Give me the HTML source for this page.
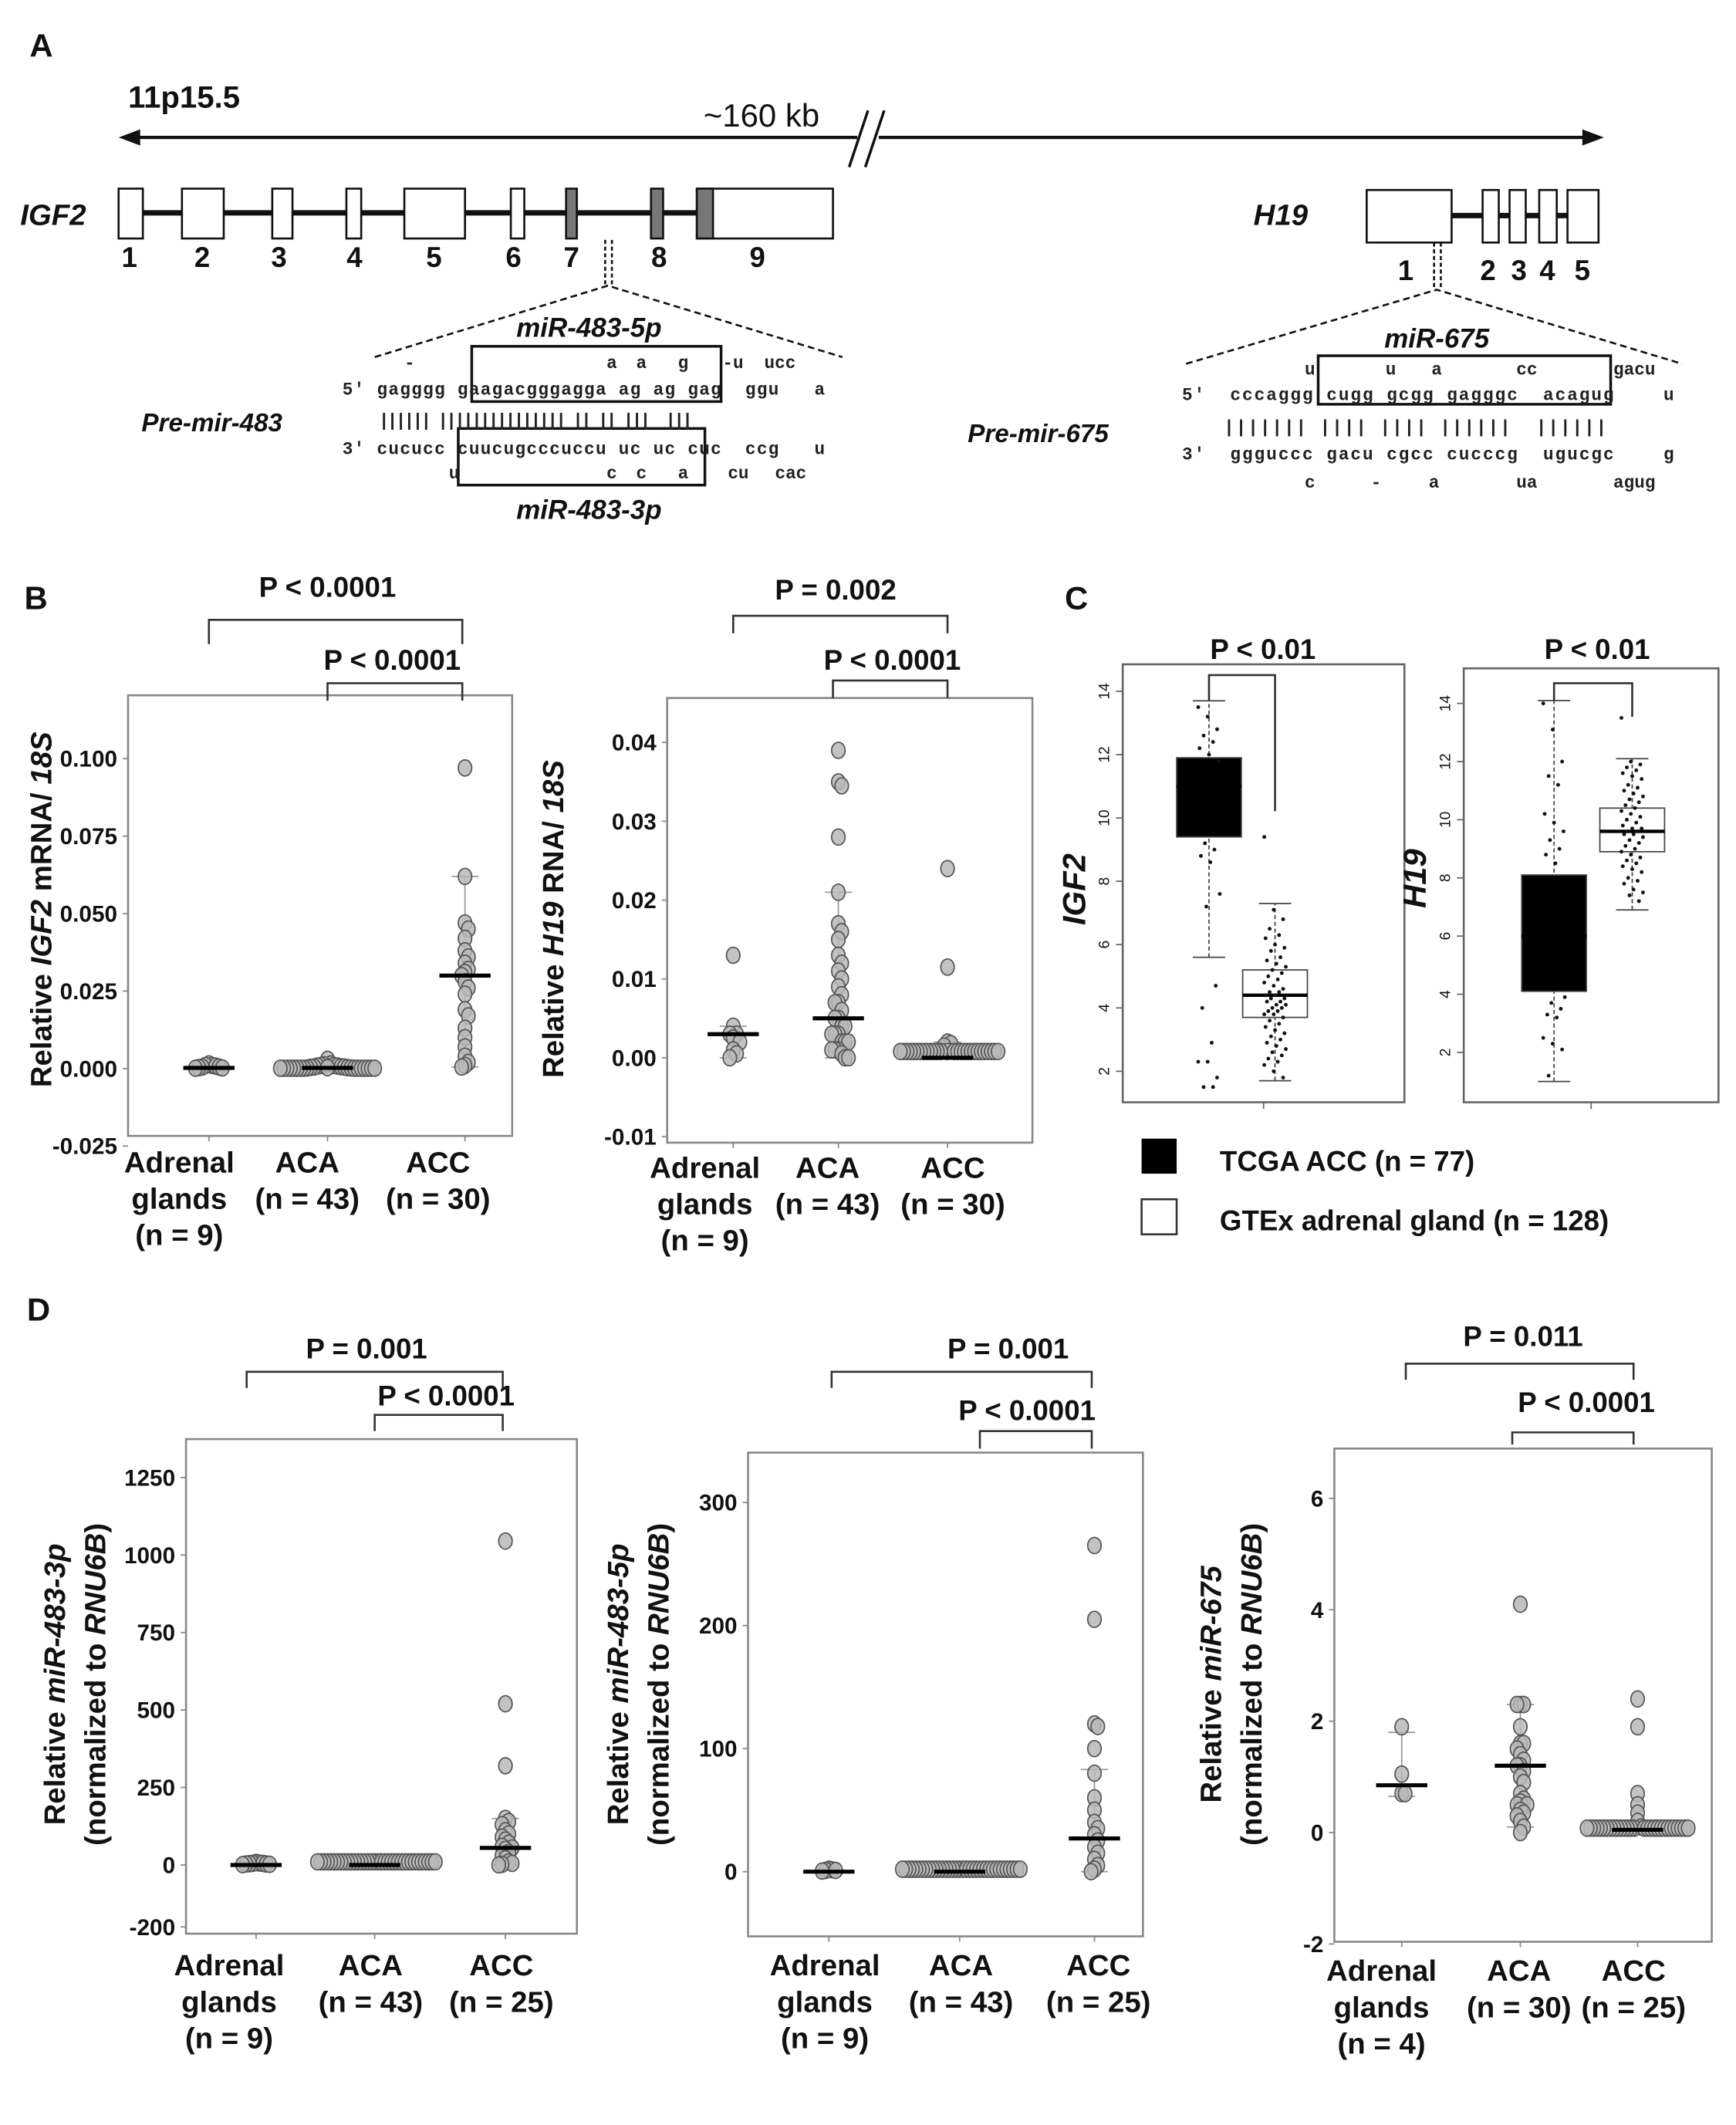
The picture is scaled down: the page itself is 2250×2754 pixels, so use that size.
<!DOCTYPE html>
<html><head><meta charset="utf-8"><style>
html,body{margin:0;padding:0;background:#fff}
svg{display:block}
text{font-family:"Liberation Sans",Arial,sans-serif;fill:#111}
.b{font-weight:bold}
.mono{font-family:"Liberation Mono","DejaVu Sans Mono",monospace;font-size:13px;font-weight:bold;fill:#222}
</style></head><body>
<svg id="fig" xmlns="http://www.w3.org/2000/svg" width="2250" height="2754" viewBox="0 0 1288 1577" preserveAspectRatio="none">
<rect width="1288" height="1577" fill="#fff"/>
<g>
<text x="22" y="42" class="b" font-size="24">A</text>
<text x="95" y="80" class="b" font-size="23">11p15.5</text>
<text x="565" y="94" font-size="24" text-anchor="middle">~160 kb</text>
<g stroke="#111" stroke-width="2.5">
<line x1="98" y1="102" x2="636" y2="102"/><line x1="652" y1="102" x2="1180" y2="102"/>
<polygon points="88,102 104,96 104,108" fill="#111" stroke="none"/>
<polygon points="1190,102 1174,96 1174,108" fill="#111" stroke="none"/>
<line x1="630" y1="124" x2="644" y2="82" stroke-width="2"/><line x1="642" y1="124" x2="656" y2="82" stroke-width="2"/>
</g>
<text x="15" y="167" class="b" font-size="22" font-style="italic">IGF2</text>
<g stroke="#111" stroke-width="1.5">
<line x1="100" y1="158" x2="520" y2="158" stroke-width="4"/>
<rect x="88" y="140" width="18" height="37" fill="#fff"/>
<rect x="135" y="140" width="31" height="37" fill="#fff"/>
<rect x="202" y="140" width="15" height="37" fill="#fff"/>
<rect x="257" y="140" width="11" height="37" fill="#fff"/>
<rect x="300" y="140" width="45" height="37" fill="#fff"/>
<rect x="379" y="140" width="10" height="37" fill="#fff"/>
<rect x="420" y="140" width="8" height="37" fill="#777"/>
<rect x="483" y="140" width="9" height="37" fill="#777"/>
<rect x="517" y="140" width="101" height="37" fill="#fff"/>
<rect x="517" y="140" width="12" height="37" fill="#777"/>
<line x1="449" y1="178" x2="449" y2="212" stroke-dasharray="3,2"/><line x1="454" y1="178" x2="454" y2="212" stroke-dasharray="3,2"/>
<polyline points="278,265 451,212 625,265" fill="none" stroke-dasharray="5,3"/>
</g>
<g class="b" font-size="21" text-anchor="middle">
<text x="96" y="198">1</text><text x="150" y="198">2</text><text x="207" y="198">3</text><text x="263" y="198">4</text><text x="322" y="198">5</text><text x="381" y="198">6</text><text x="424" y="198">7</text><text x="489" y="198">8</text><text x="562" y="198">9</text>
</g>
<text x="437" y="250" class="b" font-size="20" font-style="italic" text-anchor="middle">miR-483-5p</text>
<text x="437" y="385" class="b" font-size="20" font-style="italic" text-anchor="middle">miR-483-3p</text>
<text x="105" y="320" class="b" font-size="19" font-style="italic">Pre-mir-483</text>
<rect x="350" y="257" width="185" height="41" fill="none" stroke="#111" stroke-width="2"/>
<rect x="340" y="318" width="183" height="42" fill="none" stroke="#111" stroke-width="2"/>
<g>
<text class="mono" x="300" y="273">-</text>
<text class="mono" x="450" y="273">a</text><text class="mono" x="472" y="273">a</text><text class="mono" x="503" y="273">g</text>
<text class="mono" x="536" y="273">-u</text><text class="mono" x="567" y="273">ucc</text>
<text class="mono" x="254" y="293" xml:space="preserve" textLength="358">5' gagggg gaagacgggagga ag ag gag  ggu   a</text>
<text class="mono" x="281" y="316" xml:space="preserve" textLength="233">|||||| ||||||||||||||| || || |||  |||</text>
<text class="mono" x="254" y="337" xml:space="preserve" textLength="358">3' cucucc cuucugcccuccu uc uc cuc  ccg   u</text>
<text class="mono" x="333" y="355">u</text>
<text class="mono" x="450" y="355">c</text><text class="mono" x="472" y="355">c</text><text class="mono" x="503" y="355">a</text>
<text class="mono" x="540" y="355">cu</text><text class="mono" x="575" y="355">cac</text>
</g>
<text x="930" y="167" class="b" font-size="22" font-style="italic">H19</text>
<g stroke="#111" stroke-width="1.5">
<line x1="1077" y1="160" x2="1163" y2="160" stroke-width="4"/>
<rect x="1014" y="141" width="63" height="39" fill="#fff"/>
<rect x="1100" y="141" width="12" height="39" fill="#fff"/>
<rect x="1120" y="141" width="12" height="39" fill="#fff"/>
<rect x="1142" y="141" width="13" height="39" fill="#fff"/>
<rect x="1163" y="141" width="23" height="39" fill="#fff"/>
<line x1="1064" y1="180" x2="1064" y2="214" stroke-dasharray="3,2"/><line x1="1069" y1="180" x2="1069" y2="214" stroke-dasharray="3,2"/>
<polyline points="880,270 1066,215 1248,270" fill="none" stroke-dasharray="5,3"/>
</g>
<g class="b" font-size="21" text-anchor="middle">
<text x="1043" y="208">1</text><text x="1104" y="208">2</text><text x="1127" y="208">3</text><text x="1148" y="208">4</text><text x="1174" y="208">5</text>
</g>
<text x="1066" y="258" class="b" font-size="20" font-style="italic" text-anchor="middle">miR-675</text>
<text x="718" y="328" class="b" font-size="19" font-style="italic">Pre-mir-675</text>
<rect x="978" y="264" width="217" height="36" fill="none" stroke="#111" stroke-width="2"/>
<g>
<text class="mono" x="968" y="278">u</text><text class="mono" x="1028" y="278">u</text><text class="mono" x="1062" y="278">a</text><text class="mono" x="1125" y="278">cc</text><text class="mono" x="1197" y="278">gacu</text>
<text class="mono" x="877" y="297" xml:space="preserve" textLength="365">5'  cccaggg cugg gcgg gagggc  acagug    u</text>
<text class="mono" x="908" y="321" xml:space="preserve" textLength="284">||||||| |||| |||| ||||||  ||||||</text>
<text class="mono" x="877" y="341" xml:space="preserve" textLength="365">3'  ggguccc gacu cgcc cucccg  ugucgc    g</text>
<text class="mono" x="968" y="362">c</text><text class="mono" x="1017" y="362">-</text><text class="mono" x="1060" y="362">a</text><text class="mono" x="1125" y="362">ua</text><text class="mono" x="1197" y="362">agug</text>
</g>
</g>
<text x="18" y="452" class="b" font-size="24">B</text>
<text x="790" y="452" class="b" font-size="24">C</text>
<text x="20" y="980" class="b" font-size="24">D</text>
<g id="charts"></g>
</svg>
<script>
// ---------- data ----------
const b1Categories = ["Adrenal glands (n = 9)", "ACA (n = 43)", "ACC (n = 30)"];
const b1Adrenal = [0.0015,0.001,0.001,0.0008,0.0005,0.0005,0.0003,0.0002,0.0001];
const b1ACA = [0.003,0.0015,0.0012,0.001,0.001,0.0008,0.0008,0.0006,0.0005,0.0005,0.0004,0.0003,0.0003,0.0002,0.0002,0.0001,0.0001,0.0001,0.0001,0.0001,0.0001,0.0001,0.0001,0.0001,0.0001,0.0001,0.0001,0.0001,0.0001,0.0001];
const b1ACC = [0.097,0.062,0.047,0.045,0.042,0.038,0.036,0.034,0.032,0.031,0.030,0.028,0.026,0.024,0.019,0.017,0.013,0.010,0.007,0.004,0.002,0.001,0.0005];
const b1Medians = [0.0002,0.0002,0.030];
const b1Whiskers = [[0,0.001],[0,0.001],[0.0005,0.062]];
const b1Ticks = [0.100,0.075,0.050,0.025,0.000,-0.025];
const b1TickLabels = ["0.100","0.075","0.050","0.025","0.000","-0.025"];
const b2Categories = ["Adrenal glands (n = 9)", "ACA (n = 43)", "ACC (n = 30)"];
const b2Adrenal = [0.013,0.004,0.003,0.003,0.0025,0.002,0.001,0.0005,0];
const b2ACA = [0.039,0.035,0.0345,0.028,0.021,0.017,0.016,0.015,0.013,0.012,0.011,0.010,0.009,0.008,0.007,0.007,0.006,0.005,0.005,0.004,0.004,0.003,0.003,0.003,0.002,0.002,0.002,0.001,0.001,0.001,0.0005,0,0];
const b2ACC = [0.024,0.0115,0.002,0.0018,0.0015,0.0008,0.0008,0.0008,0.0008,0.0008,0.0008,0.0008,0.0008,0.0008,0.0008,0.0008,0.0008,0.0008,0.0008,0.0008,0.0008,0.0008,0.0008,0.0008,0.0008,0.0008,0.0008,0.0008,0.0008,0.0008,0.0008,0.0008,0.0008];
const b2Medians = [0.003,0.005,0.0];
const b2Whiskers = [[0,0.004],[0,0.021],[0,0.002]];
const b2Ticks = [0.04,0.03,0.02,0.01,0.00,-0.01];
const b2TickLabels = ["0.04","0.03","0.02","0.01","0.00","-0.01"];
const cIgf2Tcga = [9.4,11.0,11.9,5.6,13.7];
const cIgf2Gtex = [3.7,4.4,5.2,1.7,7.3];
const cH19Tcga = [4.1,6.0,8.1,1.0,14.1];
const cH19Gtex = [8.9,9.6,10.4,6.9,12.1];
const cIgf2TcgaPts = [13.5,13.2,12.8,12.6,12.4,12.2,12.0,11.8,9.2,9.0,8.8,8.6,7.6,7.2,4.7,4.0,2.9,2.3,2.3,1.8,1.5,1.5];
const cIgf2GtexPts = [9.4,7.1,6.8,6.5,6.3,6.2,6.0,5.9,5.8,5.6,5.5,5.4,5.3,5.2,5.1,5.0,4.9,4.8,4.7,4.6,4.5,4.5,4.4,4.4,4.3,4.3,4.2,4.2,4.1,4.1,4.0,4.0,3.9,3.9,3.8,3.8,3.7,3.6,3.5,3.4,3.3,3.2,3.1,3.0,2.9,2.8,2.7,2.6,2.5,2.4,2.3,2.2,2.0,1.8];
const cH19TcgaPts = [14.0,13.1,12.0,11.5,11.2,10.2,9.9,9.6,9.3,9.0,8.8,8.5,3.9,3.7,3.5,3.3,3.2,2.5,2.3,2.1,1.2];
const cH19GtexPts = [13.5,12.0,11.9,11.8,11.7,11.6,11.5,11.4,11.2,11.1,11.0,10.9,10.8,10.7,10.6,10.5,10.4,10.3,10.2,10.1,10.0,9.9,9.8,9.7,9.7,9.6,9.6,9.5,9.5,9.4,9.3,9.2,9.1,9.0,8.9,8.8,8.7,8.6,8.5,8.4,8.3,8.2,8.0,7.9,7.8,7.6,7.5,7.4,7.2];
const cTicks = [2,4,6,8,10,12,14];
const d1Categories = ["Adrenal glands (n = 9)", "ACA (n = 43)", "ACC (n = 25)"];
const d1Adrenal = [8,6,5,5,4,3,3,2,1];
const d1ACA = [10,10,10,10,10,10,10,10,10,10,10,10,10,10,10,10,10,10,10,10,10,10,10,10,10,10,10,10,10,10,10,10,10,10,10,10];
const d1ACC = [1045,520,320,150,140,130,110,100,90,80,70,60,55,50,40,30,20,10,5,2,0];
const d1Medians = [0,0,55];
const d1Whiskers = [[0,0],[0,0],[0,150]];
const d1Ticks = [1250,1000,750,500,250,0,-200];
const d1TickLabels = ["1250","1000","750","500","250","0","-200"];
const d2Categories = ["Adrenal glands (n = 9)", "ACA (n = 43)", "ACC (n = 25)"];
const d2Adrenal = [2,1.5,1,1,0.5];
const d2ACA = [2,2,2,2,2,2,2,2,2,2,2,2,2,2,2,2,2,2,2,2,2,2,2,2,2,2,2,2,2,2,2,2,2,2,2,2];
const d2ACC = [265,205,120,118,100,80,60,50,40,35,30,25,20,15,10,5,2,0];
const d2Medians = [0,0,27];
const d2Whiskers = [[0,0],[0,0],[0,83]];
const d2Ticks = [300,200,100,0];
const d2TickLabels = ["300","200","100","0"];
const d3Categories = ["Adrenal glands (n = 4)", "ACA (n = 30)", "ACC (n = 25)"];
const d3Adrenal = [1.9,1.05,0.7,0.7];
const d3ACA = [4.1,2.3,2.3,2.3,1.9,1.6,1.6,1.5,1.4,1.3,1.2,1.2,1.1,1.0,0.9,0.7,0.6,0.55,0.5,0.5,0.4,0.35,0.3,0.2,0.1,0.0];
const d3ACC = [2.4,1.9,0.7,0.5,0.35,0.2,0.1,0.08,0.08,0.08,0.08,0.08,0.08,0.08,0.08,0.08,0.08,0.08,0.08,0.08,0.08,0.08,0.08,0.08,0.08,0.08,0.08,0.08,0.08,0.08,0.08,0.08,0.08,0.08,0.08,0.08];
const d3Medians = [0.85,1.2,0.05];
const d3Whiskers = [[0.65,1.8],[0.1,2.3],[0,0]];
const d3Ticks = [6,4,2,0,-2];
const d3TickLabels = ["6","4","2","0","-2"];

// ---------- drawing ----------
const NS = "http://www.w3.org/2000/svg";
const root = document.getElementById("charts");
function el(tag, attrs, parent, txt) {
  const e = document.createElementNS(NS, tag);
  for (const k in attrs) e.setAttribute(k, attrs[k]);
  if (txt !== undefined) e.textContent = txt;
  (parent || root).appendChild(e);
  return e;
}
function scale(v0, y0, v1, y1) { return v => y0 + (v - v0) * (y1 - y0) / (v1 - v0); }

function bracket(g, x1, x2, yTop, yL, yR, label, lx, ly) {
  const p = el("polyline", {points: `${x1},${yL} ${x1},${yTop} ${x2},${yTop} ${x2},${yR}`, fill: "none", stroke: "#333", "stroke-width": 1.5}, g);
  
  
  const t = el("text", {x: lx, y: ly, "font-size": 21, "font-weight": "bold", "text-anchor": "middle"}, g, label);
  
  
}

function dotPlot(cfg) {
  const g = el("g", {});
  
  
  const y = scale(cfg.v0, cfg.y0, cfg.v1, cfg.y1);
  const fr = el("rect", {x: cfg.box[0], y: cfg.box[1], width: cfg.box[2]-cfg.box[0], height: cfg.box[3]-cfg.box[1], fill: "none", stroke: "#888", "stroke-width": 1.5}, g);
  
  
  cfg.ticks.forEach((t, i) => {
    const ty = y(t);
    const tl = el("line", {x1: cfg.box[0]-4, x2: cfg.box[0], y1: ty, y2: ty, stroke: "#888"}, g);
    
    
    const tx = el("text", {x: cfg.box[0]-8, y: ty+6, "font-size": 17, "font-weight": "bold", "text-anchor": "end"}, g, cfg.tickLabels[i]);
    
    
  });
  cfg.xs.forEach(x => {
    const xt = el("line", {x1: x, x2: x, y1: cfg.box[3], y2: cfg.box[3]+4, stroke: "#888"}, g);
    
    
  });
  const yt = el("text", {transform: `translate(${cfg.ytx},${cfg.yty}) rotate(-90)`, "font-size": 22, "font-weight": "bold", "text-anchor": "middle"}, g);
  
  
  cfg.ytitle.forEach(([s, it]) => { el("tspan", it ? {"font-style": "italic"} : {}, yt, s); });
  if (cfg.ytitle2) {
    const yt2 = el("text", {transform: `translate(${cfg.ytx+30},${cfg.yty}) rotate(-90)`, "font-size": 22, "font-weight": "bold", "text-anchor": "middle"}, g);
    
    
    cfg.ytitle2.forEach(([s, it]) => el("tspan", it ? {"font-style": "italic"} : {}, yt2, s));
  }
  cfg.groups.forEach((vals, gi) => {
    const cx = cfg.xs[gi];
    const w = cfg.whiskers[gi];
    const wl = el("line", {x1: cx, x2: cx, y1: y(w[0]), y2: y(w[1]), stroke: "#999", "stroke-width": 1}, g);
    
    
    [w[0], w[1]].forEach(v => {
      const c = el("line", {x1: cx-10, x2: cx+10, y1: y(v), y2: y(v), stroke: "#999", "stroke-width": 1}, g);
      
      
    });
    const placed = [];
    const sorted = vals.slice().sort((a, b) => b - a);
    sorted.forEach(v => {
      const py = y(v);
      let k = 0, px = cx;
      while (true) {
        const off = (k % 2 ? 1 : -1) * Math.ceil(k / 2) * 2.5;
        px = cx + off;
        if (!placed.some(p => Math.abs(p[0]-px) < 2.4 && Math.abs(p[1]-py) < 6)) break;
        k++;
        if (k > 80) break;
      }
      placed.push([px, py]);
      const d = el("ellipse", {cx: px, cy: py, rx: 5, ry: 6, fill: "#b8b8b8", "fill-opacity": 0.85, stroke: "#555", "stroke-width": 1}, g);
      
      
    });
    const m = el("line", {x1: cx-19, x2: cx+19, y1: y(cfg.medians[gi]), y2: y(cfg.medians[gi]), stroke: "#000", "stroke-width": 3}, g);
    
    
  });
  cfg.categories.forEach((c, i) => {
    const parts = c.match(/^(.*?)\s*(\(n = \d+\))$/);
    let lines = [parts[1], parts[2]];
    if (parts[1] === "Adrenal glands") lines = ["Adrenal", "glands", parts[2]];
    const t = el("text", {"font-size": 22, "font-weight": "bold", "text-anchor": "middle"}, g);
    
    
    lines.forEach((s, li) => el("tspan", {x: cfg.labelX[i], y: cfg.labelY + li * 27}, t, s));
  });
  cfg.brackets.forEach(b => bracket(g, ...b));
}

dotPlot({name: "chart-igf2-mrna", box: [95,516,380,843], v0: 0, y0: 793, v1: 0.1, y1: 563,
  ticks: b1Ticks, tickLabels: b1TickLabels, xs: [155,243,345],
  groups: [b1Adrenal, b1ACA, b1ACC], medians: b1Medians, whiskers: b1Whiskers,
  categories: b1Categories, labelX: [133,228,325], labelY: 870,
  ytx: 38, yty: 675, ytitle: [["Relative ",0],["IGF2",1],[" mRNA/ ",0],["18S",1]],
  brackets: [[155,343,460,478,478,"P < 0.0001",243,443],[243,343,507,520,520,"P < 0.0001",291,497]]});

dotPlot({name: "chart-h19-rna", box: [495,518,766,848], v0: 0, y0: 785, v1: 0.04, y1: 551,
  ticks: b2Ticks, tickLabels: b2TickLabels, xs: [544,622,703],
  groups: [b2Adrenal, b2ACA, b2ACC], medians: b2Medians, whiskers: b2Whiskers,
  categories: b2Categories, labelX: [523,614,707], labelY: 874,
  ytx: 418, yty: 682, ytitle: [["Relative ",0],["H19",1],[" RNA/ ",0],["18S",1]],
  brackets: [[544,703,457,470,470,"P = 0.002",620,445],[618,703,505,518,518,"P < 0.0001",662,497]]});

dotPlot({name: "chart-mir-483-3p", box: [138,1068,428,1435], v0: 0, y0: 1384, v1: 1000, y1: 1154,
  ticks: d1Ticks, tickLabels: d1TickLabels, xs: [190,278,375],
  groups: [d1Adrenal, d1ACA, d1ACC], medians: d1Medians, whiskers: d1Whiskers,
  categories: d1Categories, labelX: [170,275,372], labelY: 1466,
  ytx: 48, yty: 1250, ytitle: [["Relative ",0],["miR-483-3p",1]], ytitle2: [["(normalized to ",0],["RNU6B",1],[")",0]],
  brackets: [[183,373,1018,1030,1030,"P = 0.001",272,1008],[278,373,1050,1062,1062,"P < 0.0001",331,1043]]});

dotPlot({name: "chart-mir-483-5p", box: [555,1078,848,1437], v0: 0, y0: 1389, v1: 300, y1: 1115,
  ticks: d2Ticks, tickLabels: d2TickLabels, xs: [615,712,812],
  groups: [d2Adrenal, d2ACA, d2ACC], medians: d2Medians, whiskers: d2Whiskers,
  categories: d2Categories, labelX: [612,713,815], labelY: 1466,
  ytx: 466, yty: 1250, ytitle: [["Relative ",0],["miR-483-5p",1]], ytitle2: [["(normalized to ",0],["RNU6B",1],[")",0]],
  brackets: [[617,810,1018,1030,1030,"P = 0.001",748,1008],[727,810,1062,1075,1075,"P < 0.0001",762,1054]]});

dotPlot({name: "chart-mir-675", box: [990,1075,1270,1441], v0: 0, y0: 1360, v1: 6, y1: 1112,
  ticks: d3Ticks, tickLabels: d3TickLabels, xs: [1040,1128,1215],
  groups: [d3Adrenal, d3ACA, d3ACC], medians: d3Medians, whiskers: d3Whiskers,
  categories: d3Categories, labelX: [1025,1127,1212], labelY: 1470,
  ytx: 906, yty: 1250, ytitle: [["Relative ",0],["miR-675",1]], ytitle2: [["(normalized to ",0],["RNU6B",1],[")",0]],
  brackets: [[1043,1212,1012,1024,1024,"P = 0.011",1130,999],[1122,1212,1063,1072,1072,"P < 0.0001",1177,1048]]});

function boxPlot(cfg) {
  const g = el("g", {});
  
  
  const y = scale(2, cfg.y2, 14, cfg.y14);
  const fr = el("rect", {x: cfg.frame[0], y: cfg.frame[1], width: cfg.frame[2]-cfg.frame[0], height: cfg.frame[3]-cfg.frame[1], fill: "none", stroke: "#666", "stroke-width": 1.5}, g);
  
  
  const mx = (cfg.frame[0]+cfg.frame[2])/2;
  const bt = el("line", {x1: mx, x2: mx, y1: cfg.frame[3], y2: cfg.frame[3]+5, stroke: "#666"}, g);
  
  
  cTicks.forEach(t => {
    const tl = el("line", {x1: cfg.frame[0]-5, x2: cfg.frame[0], y1: y(t), y2: y(t), stroke: "#666"}, g);
    
    
    const tx = el("text", {transform: `translate(${cfg.frame[0]-10},${y(t)}) rotate(-90)`, "font-size": 11, "text-anchor": "middle"}, g, String(t));
    
    
  });
  [[cfg.tcga, cfg.tcgaPts, cfg.x1, "#000"], [cfg.gtex, cfg.gtexPts, cfg.x2, "#fff"]].forEach(([s, pts, cx, fill]) => {
    const wl = el("line", {x1: cx, x2: cx, y1: y(s[3]), y2: y(s[4]), stroke: "#444", "stroke-dasharray": "3,2"}, g);
    
    
    [s[3], s[4]].forEach(v => {
      const c = el("line", {x1: cx-12, x2: cx+12, y1: y(v), y2: y(v), stroke: "#444"}, g);
      
      
    });
    const b = el("rect", {x: cx-24, y: y(s[2]), width: 48, height: y(s[0])-y(s[2]), fill: fill, stroke: "#444", "stroke-width": 1}, g);
    
    
    const m = el("line", {x1: cx-24, x2: cx+24, y1: y(s[1]), y2: y(s[1]), stroke: "#000", "stroke-width": 2.5}, g);
    
    
    pts.forEach((v, i) => {
      const p = el("circle", {cx: cx + ((i * 7) % 17) - 8, cy: y(v), r: 1.4, fill: "#111"}, g);
      
      
    });
  });
  const br = el("polyline", {points: `${cfg.x1},${y(cfg.tcga[4])} ${cfg.x1},${cfg.brY} ${cfg.x2},${cfg.brY} ${cfg.x2},${cfg.brEnd}`, fill: "none", stroke: "#333", "stroke-width": 1.5}, g);
  
  
  const pt = el("text", {x: cfg.px, y: 489, "font-size": 21, "font-weight": "bold", "text-anchor": "middle"}, g, "P < 0.01");
  
  
  const yt = el("text", {transform: `translate(${cfg.ytx},${cfg.yty}) rotate(-90)`, "font-size": 24, "font-weight": "bold", "font-style": "italic", "text-anchor": "middle"}, g, cfg.title);
  
  
}
boxPlot({name: "chart-igf2-tcga-gtex", frame: [833,493,1042,818], y2: 795, y14: 513, x1: 897, x2: 946,
  tcga: cIgf2Tcga, gtex: cIgf2Gtex, tcgaPts: cIgf2TcgaPts, gtexPts: cIgf2GtexPts,
  brY: 501, brEnd: 602, px: 937, ytx: 805, yty: 660, title: "IGF2"});
boxPlot({name: "chart-h19-tcga-gtex", frame: [1086,496,1275,818], y2: 781, y14: 522, x1: 1153, x2: 1211,
  tcga: cH19Tcga, gtex: cH19Gtex, tcgaPts: cH19TcgaPts, gtexPts: cH19GtexPts,
  brY: 507, brEnd: 532, px: 1185, ytx: 1058, yty: 652, title: "H19"});

const lg = el("g", {});


const s1 = el("rect", {x: 847, y: 845, width: 26, height: 26, fill: "#000"}, lg);


const l1 = el("text", {x: 905, y: 869, "font-size": 21, "font-weight": "bold"}, lg, "TCGA ACC (n = 77)");


const s2 = el("rect", {x: 847, y: 890, width: 26, height: 26, fill: "#fff", stroke: "#333", "stroke-width": 1.5}, lg);


const l2 = el("text", {x: 905, y: 913, "font-size": 21, "font-weight": "bold"}, lg, "GTEx adrenal gland (n = 128)");


</script>
</body></html>
